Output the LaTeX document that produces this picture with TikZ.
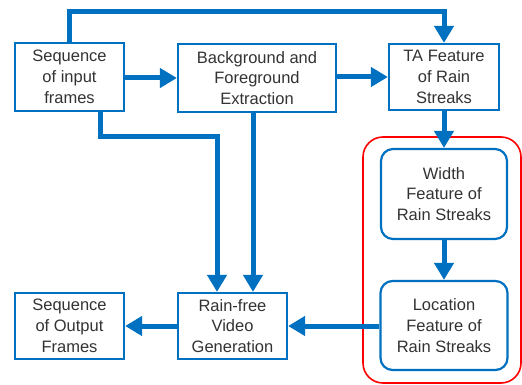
\documentclass[tikz,border=0pt]{standalone}
\usepackage{fontspec}
\setmainfont{Liberation Sans}
\usetikzlibrary{arrows.meta}
\definecolor{bl}{HTML}{0070C0}
\definecolor{txt}{HTML}{333333}
\definecolor{rd}{HTML}{FF0000}
\begin{document}
\begin{tikzpicture}[x=1pt,y=-1pt,
  box/.style={draw=bl, line width=2.2pt, fill=white, align=center, inner sep=0pt,
    text=txt, font=\fontsize{16.5}{20.7}\selectfont},
  rbox/.style={box, rounded corners=12pt},
  flow/.style={draw=bl, line width=5pt, -{Triangle[length=17pt,width=19pt]}},
  plain/.style={draw=bl, line width=5pt}]
\useasboundingbox (0,0) rectangle (522,385);
\draw[rd, line width=1.6pt, rounded corners=20pt] (363,137) rectangle (521,383);
\node[box, minimum width=109pt, minimum height=68pt] (in) at (69.5,77) {Sequence\\of input\\frames};
\node[box, minimum width=158pt, minimum height=68pt] (bg) at (257,78) {Background and\\Foreground\\Extraction};
\node[box, minimum width=110pt, minimum height=66pt] (ta) at (444,77) {TA Feature\\of Rain\\Streaks};
\node[box, minimum width=109pt, minimum height=66pt] (out) at (69.5,326) {Sequence\\of Output\\Frames};
\node[box, minimum width=109pt, minimum height=66pt] (rf) at (232.5,326) {Rain-free\\Video\\Generation};
\node[rbox, minimum width=126pt, minimum height=90pt] (wd) at (444,194) {Width\\Feature of\\Rain Streaks};
\node[rbox, minimum width=127pt, minimum height=89pt] (loc) at (444,325.5) {Location\\Feature of\\Rain Streaks};
\coordinate (t1) at (69.5,12);
\coordinate (t2) at (444,12);
\coordinate (m1) at (100,137);
\coordinate (m2) at (217,137);
\draw[flow] (in.north) -- (t1) -- (t2) -- (ta.north);
\draw[flow] (in.east |- 0,78) -- (bg.west |- 0,78);
\draw[flow] (bg.east |- 0,77) -- (ta.west |- 0,77);
\draw[flow] (in.south -| m1) -- (m1) -- (m2) -- (rf.north -| m2);
\draw[flow] (bg.south -| 253,0) -- (rf.north -| 253,0);
\draw[flow] (ta.south) -- (wd.north);
\draw[flow] (wd.south) -- (loc.north);
\draw[flow] (loc.west |- rf.east) -- (rf.east);
\draw[flow] (rf.west) -- (out.east);
\end{tikzpicture}
\end{document}
